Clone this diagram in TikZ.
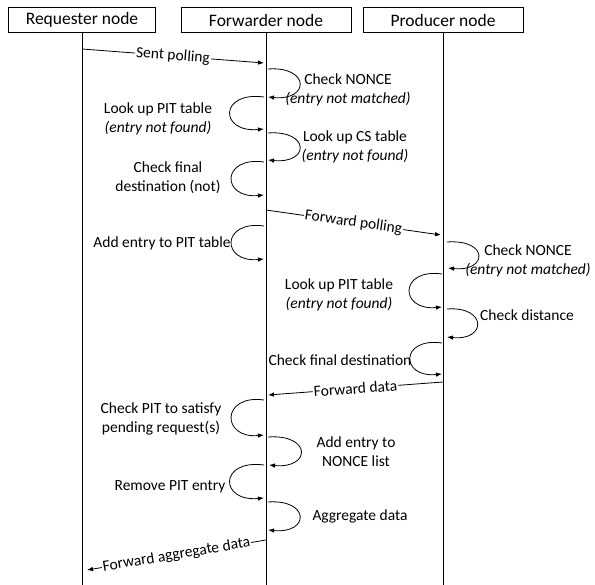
\documentclass[tikz,border=0pt]{standalone}
\usepackage{fontspec}
\setmainfont{Carlito}
\usetikzlibrary{arrows.meta}

\begin{document}
\begin{tikzpicture}[x=1pt,y=-1pt,>={Latex[length=6pt,width=4.5pt]},
    head/.style={draw,line width=0.8pt,minimum height=25pt,inner sep=0pt,
      font=\fontsize{17.5}{21}\selectfont},
    note/.style={align=center,inner sep=0pt,font=\fontsize{15.5}{19}\selectfont},
    msg/.style={->,line width=0.8pt},
    msglabel/.style={midway,sloped,fill=white,inner sep=1pt,
      font=\fontsize{15.5}{19}\selectfont},
    self/.style={->,line width=0.8pt}]
  \useasboundingbox (0,0) rectangle (595,585);
  % heads and lifelines
  \node[head,minimum width=147pt] (req) at (82,20) {Requester node};
  \node[head,minimum width=170pt] (fwd) at (266,20) {Forwarder node};
  \node[head,minimum width=160pt] (prod) at (443,20) {Producer node};
  \coordinate (reqend) at (82,585);
  \coordinate (fwdend) at (266,585);
  \coordinate (prodend) at (443,585);
  \draw[line width=0.8pt] (req) -- (reqend);
  \draw[line width=0.8pt] (fwd) -- (fwdend);
  \draw[line width=0.8pt] (prod) -- (prodend);

  % messages
  \coordinate (m1a) at (82,49);   \coordinate (m1b) at (264,63);
  \coordinate (m2a) at (266,210); \coordinate (m2b) at (441,235);
  \coordinate (m3a) at (443,382); \coordinate (m3b) at (268,395);
  \coordinate (m4a) at (266,540); \coordinate (m4b) at (87,570);
  \draw[msg] (m1a) -- node[msglabel]{Sent polling} (m1b);
  \draw[msg] (m2a) -- node[msglabel]{Forward polling} (m2b);
  \draw[msg] (m3a) -- node[msglabel]{Forward data} (m3b);
  \draw[msg] (m4a) -- node[msglabel]{Forward aggregate data} (m4b);

  % forwarder steps
  \coordinate (f1a) at (268,69);  \coordinate (f1b) at (268,97);
  \draw[self] (f1a) .. controls +(42,-3) and +(42,4) .. (f1b);
  \node[note] (chk1) at (348,90) {Check NONCE\\\textit{(entry not matched)}};
  \coordinate (f2a) at (264,97);  \coordinate (f2b) at (264,129);
  \draw[self] (f2a) .. controls +(-45,-6) and +(-45,4) .. (f2b);
  \node[note] (pit1) at (158,119) {Look up PIT table\\\textit{(entry not found)}};
  \coordinate (f3a) at (268,133); \coordinate (f3b) at (268,160);
  \draw[self] (f3a) .. controls +(42,-3) and +(42,4) .. (f3b);
  \node[note] (cs1) at (355,147) {Look up CS table\\\textit{(entry not found)}};
  \coordinate (f4a) at (264,162); \coordinate (f4b) at (264,195);
  \draw[self] (f4a) .. controls +(-43,-6) and +(-43,4) .. (f4b);
  \node[note] (dst1) at (168,178) {Check final\\destination (not)};
  \coordinate (f5a) at (264,226); \coordinate (f5b) at (264,259);
  \draw[self] (f5a) .. controls +(-43,-6) and +(-43,4) .. (f5b);
  \node[note] (add1) at (162,243) {Add entry to PIT table};

  % producer steps
  \coordinate (p1a) at (447,242); \coordinate (p1b) at (448,268);
  \draw[self] (p1a) .. controls +(42,-3) and +(40,4) .. (p1b);
  \node[note] (chk2) at (528,261) {Check NONCE\\\textit{(entry not matched)}};
  \coordinate (p2a) at (442,274); \coordinate (p2b) at (442,307);
  \draw[self] (p2a) .. controls +(-43,-6) and +(-43,4) .. (p2b);
  \node[note] (pit2) at (339,295) {Look up PIT table\\\textit{(entry not found)}};
  \coordinate (p3a) at (447,309); \coordinate (p3b) at (447,337);
  \draw[self] (p3a) .. controls +(40,-3) and +(40,4) .. (p3b);
  \node[note] (dist) at (527,315) {Check distance};
  \coordinate (p4a) at (442,343); \coordinate (p4b) at (442,374);
  \draw[self] (p4a) .. controls +(-42,-6) and +(-42,4) .. (p4b);
  \node[note] (dst2) at (340,360) {Check final destination};

  % back on the forwarder
  \coordinate (f6a) at (264,400); \coordinate (f6b) at (264,435);
  \draw[self] (f6a) .. controls +(-43,-6) and +(-43,4) .. (f6b);
  \node[note] (sat) at (161,419) {Check PIT to satisfy\\pending request(s)};
  \coordinate (f7a) at (268,437); \coordinate (f7b) at (269,465);
  \draw[self] (f7a) .. controls +(44,-3) and +(42,4) .. (f7b);
  \node[note] (nonce) at (356,452) {Add entry to\\NONCE list};
  \coordinate (f8a) at (264,465); \coordinate (f8b) at (264,498);
  \draw[self] (f8a) .. controls +(-45,-6) and +(-45,4) .. (f8b);
  \node[note] (rem) at (170,487) {Remove PIT entry};
  \coordinate (f9a) at (268,502); \coordinate (f9b) at (268,530);
  \draw[self] (f9a) .. controls +(42,-3) and +(42,4) .. (f9b);
  \node[note] (agg) at (360,516) {Aggregate data};
\end{tikzpicture}
\end{document}
